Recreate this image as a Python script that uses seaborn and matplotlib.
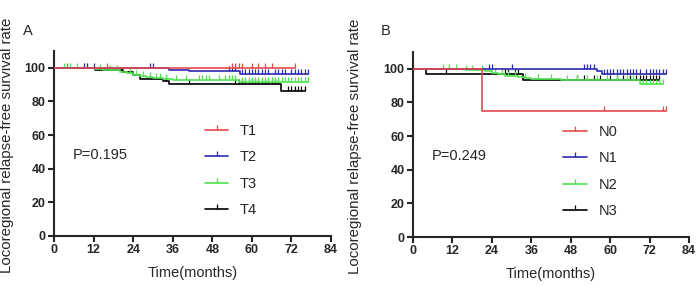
import numpy as np
import pandas as pd
import matplotlib
matplotlib.use('Agg')
import matplotlib.pyplot as plt
from matplotlib.lines import Line2D
import seaborn as sns

# 생존곡선 데이터
# 왼쪽: T 병기
t1_times = [0]
t1_surv = [100]
t1_end = 73
t1_cens = [4, 16, 54, 55, 56, 57, 60, 62, 64, 66, 73]

t2_times = [0, 35, 41, 56.5]
t2_surv = [100, 99, 98, 96.2]
t2_end = 77
t2_cens = [9, 10, 12, 29, 30, 53, 54, 55, 57, 58, 59, 60, 61, 62, 63, 64, 65,
           67, 68, 69, 70, 72, 73, 74, 75, 76, 77]

t3_times = [0, 12, 15, 18, 20, 22, 24, 26, 28, 30, 33, 36, 48, 56]
t3_surv = [100, 99.5, 99, 98.5, 97.5, 97, 96, 95, 94.5, 94, 93.5, 93, 92.5, 91.5]
t3_end = 77
t3_cens = [3, 5, 7, 10, 14, 17, 19, 23, 25, 27, 29, 31, 32, 34, 37, 40, 44, 45,
           46, 47, 50, 52, 53, 54, 55, 57, 58, 59, 60, 61, 62, 63, 64, 65, 66,
           67, 68, 69, 70, 71, 72, 73, 74, 75, 76, 77]

t4_times = [0, 12.5, 21, 24, 26, 33, 35, 68.7]
t4_surv = [100, 98.8, 97.5, 95.5, 93.5, 92, 90.5, 86.5]
t4_end = 76
t4_cens = [34, 41, 55, 56, 57, 58, 59, 60, 61, 62, 63, 64, 65, 66, 67, 68,
           71, 72, 73, 74, 75, 76]

# 오른쪽: N 병기
n0_times = [0, 21]
n0_surv = [100, 75]
n0_end = 77
n0_cens = [58, 76, 77]

n1_times = [0, 56, 57.5]
n1_surv = [100, 98.5, 97]
n1_end = 77
n1_cens = [23, 24, 30, 52, 53, 54, 55, 58, 59, 60, 61, 62, 63, 64, 65, 66, 67,
           68, 69, 71, 72, 73, 74, 75, 76, 77]

n2_times = [0, 16, 20, 22, 24, 26, 28, 30, 32, 34, 36, 45, 69]
n2_surv = [100, 99.5, 99, 98.5, 97.5, 97, 96, 95.5, 95, 94.5, 94, 93.5, 90.8]
n2_end = 76
n2_cens = [9, 11, 13, 16, 18, 21, 25, 27, 29, 31, 34, 38, 42, 47, 50, 53, 56,
           59, 62, 65, 67, 70, 71, 72, 73, 74, 75, 76]

n3_times = [0, 4, 33.5]
n3_surv = [100, 97, 93.5]
n3_end = 75
n3_cens = [10, 28, 29, 31, 32, 50, 52, 55, 57, 60, 62, 64, 66, 68, 69, 70, 71,
           72, 73, 74, 75]

t_labels = ['T1', 'T2', 'T3', 'T4']
n_labels = ['N0', 'N1', 'N2', 'N3']
colors = ['#e5484d', '#2b2bb0', '#4fe34f', '#000000']
p_values = ['P=0.195', 'P=0.249']

# 폰트 설정
sns.set_style('ticks')
plt.rcParams['font.family'] = ['Liberation Sans', 'DejaVu Sans']


def curve_df(times, surv, end, label):
    # steps-post 로 그릴 점들
    x = list(times) + [end]
    y = list(surv) + [surv[-1]]
    return pd.DataFrame({'time': x, 'surv': y, 'group': label})


def cens_y(times, surv, cens):
    idx = np.searchsorted(times, cens, side='right') - 1
    return np.array(surv)[idx]


def draw_panel(ax, groups, labels, ptext, ylab_x):
    for i, (times, surv, end, cens) in enumerate(groups):
        df = curve_df(times, surv, end, labels[i])
        z = 5 - i if i == 0 else 2 + (3 - i)
        sns.lineplot(data=df, x='time', y='surv', color=colors[i], ax=ax,
                     drawstyle='steps-post', sort=False, estimator=None,
                     linewidth=1.2, zorder=z, legend=False)
        ax.plot(cens, cens_y(times, surv, cens), linestyle='none', marker=2,
                markersize=3.5, markeredgewidth=0.9, color=colors[i], zorder=z)

    ax.set_xlim(0, 84)
    ax.set_ylim(0, 110)
    ax.set_xticks(np.arange(0, 85, 12))
    ax.set_yticks(np.arange(0, 101, 20))
    ax.tick_params(labelsize=9, width=1.5, length=4, pad=2)
    for lab in ax.get_xticklabels() + ax.get_yticklabels():
        lab.set_fontweight('bold')
    for s in ['left', 'bottom']:
        ax.spines[s].set_linewidth(1.5)
    sns.despine(ax=ax)
    ax.set_xlabel('Time(months)', fontsize=10.5, labelpad=7)
    ax.set_ylabel('Locoregional relapse-free survival rate', fontsize=10.8)
    ax.yaxis.set_label_coords(ylab_x, 0.49)

    handles = [Line2D([], [], color=c, lw=1.2, marker=2, markersize=3.5,
                      markeredgewidth=0.9) for c in colors]
    ax.legend(handles, labels, loc='upper left', bbox_to_anchor=(0.545, 0.605),
              frameon=False, fontsize=10.5, numpoints=1, handlelength=1.6,
              handletextpad=0.8, labelspacing=0.85, borderpad=0, borderaxespad=0)
    ax.text(0.069, 0.438, ptext, transform=ax.transAxes, fontsize=10.5,
            va='center', ha='left')


fig = plt.figure(figsize=(6.97, 2.86), dpi=100)
ax1 = fig.add_axes([54 / 697, 50 / 286, 277 / 697, 185 / 286])
ax2 = fig.add_axes([413 / 697, 49 / 286, 276 / 697, 185 / 286])

draw_panel(ax1, [(t1_times, t1_surv, t1_end, t1_cens),
                 (t2_times, t2_surv, t2_end, t2_cens),
                 (t3_times, t3_surv, t3_end, t3_cens),
                 (t4_times, t4_surv, t4_end, t4_cens)], t_labels, p_values[0], -0.145)
draw_panel(ax2, [(n0_times, n0_surv, n0_end, n0_cens),
                 (n1_times, n1_surv, n1_end, n1_cens),
                 (n2_times, n2_surv, n2_end, n2_cens),
                 (n3_times, n3_surv, n3_end, n3_cens)], n_labels, p_values[1], -0.185)

fig.text(28 / 697, 1 - 31 / 286, 'A', fontsize=10.5, ha='center', va='center')
fig.text(386 / 697, 1 - 31 / 286, 'B', fontsize=10.5, ha='center', va='center')

plt.savefig('out.png', dpi=100)
